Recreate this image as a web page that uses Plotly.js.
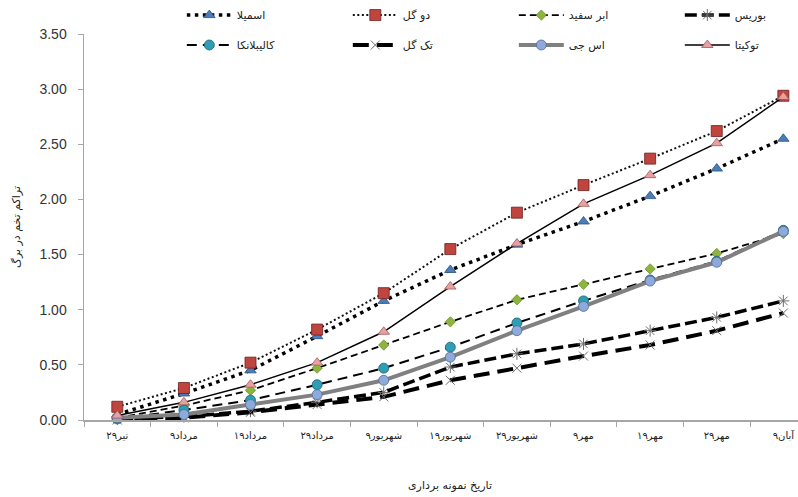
<!DOCTYPE html>
<html>
<head>
<meta charset="utf-8">
<script src="https://cdn.plot.ly/plotly-3.0.1.min.js"></script>
<style>
  html, body { margin: 0; padding: 0; background: #fff; }
  #chart { width: 798px; height: 497px; }
</style>
</head>
<body>
<div id="chart"></div>
<script>
// Sampling dates (category axis)
const dates = ['۲۹تیر', '۹مرداد', '۱۹مرداد', '۲۹مرداد', '۹شهریور', '۱۹شهریور',
               '۲۹شهریور', '۹مهر', '۱۹مهر', '۲۹مهر', '۹آبان'];

// Cumulative egg density per leaf, one array per cultivar
const smila      = [0.05, 0.24, 0.45, 0.76, 1.08, 1.36, 1.59, 1.80, 2.03, 2.28, 2.55]; // اسمیلا
const doGol      = [0.12, 0.29, 0.52, 0.82, 1.15, 1.55, 1.88, 2.13, 2.37, 2.62, 2.94]; // دو گل
const abrSefid   = [0.02, 0.13, 0.27, 0.47, 0.68, 0.89, 1.09, 1.23, 1.37, 1.51, 1.69]; // ابر سفید
const boris      = [0.01, 0.03, 0.08, 0.16, 0.25, 0.48, 0.60, 0.69, 0.81, 0.93, 1.08]; // بوریس
const calibelanka= [0.01, 0.09, 0.18, 0.32, 0.47, 0.66, 0.88, 1.08, 1.27, 1.44, 1.72]; // کالیبلانکا
const takGol     = [0.00, 0.02, 0.07, 0.14, 0.21, 0.36, 0.47, 0.58, 0.68, 0.81, 0.97]; // تک گل
const asJi       = [0.02, 0.05, 0.14, 0.23, 0.36, 0.57, 0.81, 1.03, 1.26, 1.43, 1.71]; // اس جی
const tokita     = [0.04, 0.16, 0.32, 0.52, 0.80, 1.21, 1.60, 1.96, 2.22, 2.51, 2.93]; // توکیتا

const seriesNames = ['اسمیلا', 'دو گل', 'ابر سفید', 'بوریس',
                     'کالیبلانکا', 'تک گل', 'اس جی', 'توکیتا'];

const FA = '"DejaVu Sans", sans-serif';

function series(name, y, line, marker, legend) {
  return {
    type: 'scatter', mode: 'lines+markers', name: name,
    x: dates, y: y, line: line, marker: marker,
    cliponaxis: false, legend: legend
  };
}

const traces = [
  // legend row 1
  series(seriesNames[0], smila,
    { color: '#000', width: 3.5, dash: '3.5px,4.5px' },
    { symbol: 'triangle-up', size: 10, color: '#4A7EBB', line: { color: '#2c4f7c', width: 0.8 } }, 'legend'),
  series(seriesNames[1], doGol,
    { color: '#111', width: 2, dash: '2px,2.5px' },
    { symbol: 'square', size: 11, color: '#C0453F', line: { color: '#6b2020', width: 0.8 } }, 'legend'),
  series(seriesNames[2], abrSefid,
    { color: '#000', width: 1.8, dash: '7px,4px' },
    { symbol: 'diamond', size: 8, color: '#8DB53C', line: { color: '#5b7a22', width: 0.6 } }, 'legend'),
  series(seriesNames[3], boris,
    { color: '#000', width: 3.5, dash: '12px,5px' },
    { symbol: 'asterisk-open', size: 10, color: '#6e6e6e', line: { color: '#6e6e6e', width: 1 } }, 'legend'),
  // legend row 2
  series(seriesNames[4], calibelanka,
    { color: '#000', width: 2, dash: '10px,6px' },
    { symbol: 'circle', size: 10, color: '#2F9DB4', line: { color: '#1d6070', width: 0.8 } }, 'legend2'),
  series(seriesNames[5], takGol,
    { color: '#000', width: 4, dash: '16px,8px' },
    { symbol: 'x-thin-open', size: 9, color: '#6e6e6e', line: { color: '#6e6e6e', width: 1 } }, 'legend2'),
  series(seriesNames[6], asJi,
    { color: '#808080', width: 4 },
    { symbol: 'circle', size: 10, color: '#8EAADB', line: { color: '#4f6a96', width: 0.8 } }, 'legend2'),
  series(seriesNames[7], tokita,
    { color: '#000', width: 1.5 },
    { symbol: 'triangle-up', size: 10, color: '#E8A1A0', line: { color: '#9b5a59', width: 0.8 } }, 'legend2')
];

const legendBase = {
  orientation: 'h', xanchor: 'left', yanchor: 'middle',
  x: 0.137, itemwidth: 45, entrywidth: 106, entrywidthmode: 'pixels',
  font: { family: FA, size: 11, color: '#222' },
  bgcolor: 'rgba(0,0,0,0)', borderwidth: 0, itemclick: false
};

const layout = {
  width: 798, height: 497,
  margin: { l: 84, r: 0, t: 34, b: 77, autoexpand: false },
  paper_bgcolor: '#fff', plot_bgcolor: '#fff',
  font: { family: '"Liberation Sans", Arial, sans-serif', size: 13, color: '#333' },
  xaxis: {
    type: 'category', categoryorder: 'array', categoryarray: dates,
    range: [-0.5, 10.22], showgrid: false, zeroline: false,
    showline: true, linecolor: '#a6a6a6', linewidth: 1.5,
    ticks: 'outside', tickson: 'boundaries', ticklen: 5, tickcolor: '#a6a6a6',
    ticklabelstandoff: 5,
    tickfont: { family: FA, size: 10, color: '#222' }
  },
  yaxis: {
    range: [0, 3.5], dtick: 0.5, tickformat: '.2f',
    showgrid: false, zeroline: false,
    showline: true, linecolor: '#a6a6a6', linewidth: 1.5,
    ticks: 'outside', ticklen: 5, tickcolor: '#a6a6a6',
    ticklabelstandoff: 8,
    tickfont: { family: '"Liberation Sans", Arial, sans-serif', size: 14, color: '#333' },
    title: { text: 'تراکم تخم در برگ', font: { family: FA, size: 11, color: '#222' }, standoff: 16 }
  },
  annotations: [{
    text: 'تاریخ نمونه برداری', xref: 'paper', yref: 'paper',
    x: 0.5126, y: -0.17, xanchor: 'center', yanchor: 'middle', showarrow: false,
    font: { family: FA, size: 11, color: '#222' }
  }],
  legend: Object.assign({}, legendBase, { y: 1.049 }),
  legend2: Object.assign({}, legendBase, { y: 0.9715 }),
  showlegend: true
};

Plotly.newPlot('chart', traces, layout, { displayModeBar: false, staticPlot: true });
</script>
</body>
</html>
